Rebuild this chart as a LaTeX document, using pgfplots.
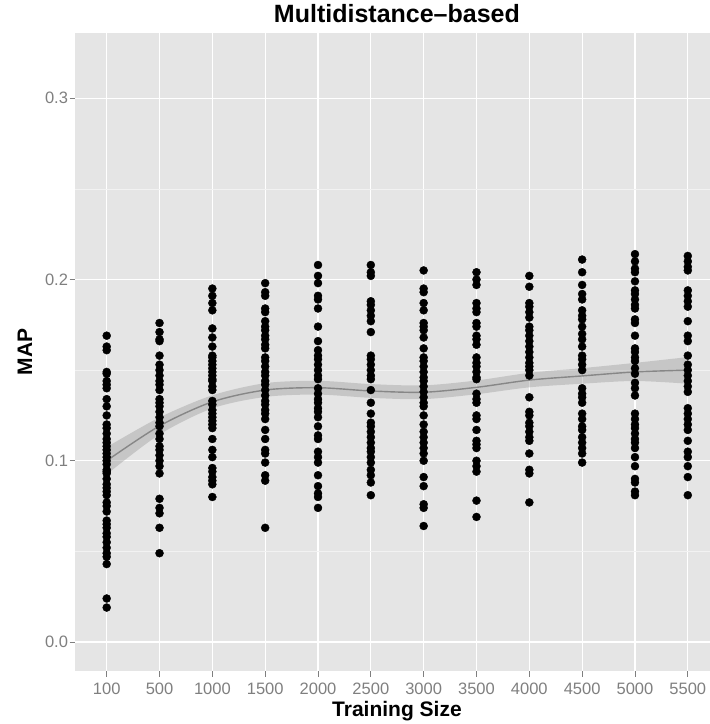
\documentclass[border=0pt]{standalone}
\usepackage{pgfplots}
\pgfplotsset{compat=1.18}
\usepgfplotslibrary{fillbetween}
\usepackage{fontspec}
\setmainfont{Liberation Sans}
\definecolor{panel}{RGB}{229,229,229}
\definecolor{minorgrid}{RGB}{242,242,242}
\definecolor{ticklab}{RGB}{127,127,127}
\definecolor{smoothline}{RGB}{135,135,135}
\definecolor{bandfill}{RGB}{153,153,153}

\pgfplotstableread{
x y
0 0.169
0 0.163
0 0.161
0 0.149
0 0.148
0 0.144
0 0.142
0 0.140
0 0.134
0 0.130
0 0.125
0 0.120
0 0.118
0 0.115
0 0.112
0 0.110
0 0.108
0 0.106
0 0.104
0 0.102
0 0.100
0 0.098
0 0.095
0 0.094
0 0.093
0 0.090
0 0.087
0 0.085
0 0.083
0 0.081
0 0.077
0 0.075
0 0.072
0 0.067
0 0.065
0 0.063
0 0.060
0 0.058
0 0.055
0 0.052
0 0.049
0 0.047
0 0.043
0 0.024
0 0.019
1 0.176
1 0.171
1 0.167
1 0.166
1 0.158
1 0.153
1 0.150
1 0.147
1 0.144
1 0.142
1 0.139
1 0.134
1 0.132
1 0.130
1 0.127
1 0.124
1 0.121
1 0.119
1 0.115
1 0.112
1 0.108
1 0.106
1 0.103
1 0.100
1 0.097
1 0.093
1 0.079
1 0.074
1 0.071
1 0.063
1 0.049
2 0.195
2 0.191
2 0.187
2 0.183
2 0.173
2 0.168
2 0.163
2 0.158
2 0.157
2 0.155
2 0.153
2 0.151
2 0.149
2 0.147
2 0.145
2 0.144
2 0.141
2 0.139
2 0.133
2 0.131
2 0.128
2 0.126
2 0.124
2 0.122
2 0.120
2 0.118
2 0.112
2 0.106
2 0.102
2 0.096
2 0.094
2 0.091
2 0.089
2 0.087
2 0.080
3 0.198
3 0.193
3 0.191
3 0.184
3 0.182
3 0.177
3 0.174
3 0.172
3 0.169
3 0.167
3 0.164
3 0.162
3 0.157
3 0.155
3 0.152
3 0.149
3 0.147
3 0.144
3 0.142
3 0.139
3 0.136
3 0.133
3 0.131
3 0.128
3 0.126
3 0.123
3 0.117
3 0.112
3 0.106
3 0.104
3 0.099
3 0.092
3 0.089
3 0.063
4 0.208
4 0.202
4 0.198
4 0.191
4 0.189
4 0.184
4 0.174
4 0.166
4 0.161
4 0.158
4 0.156
4 0.153
4 0.150
4 0.147
4 0.145
4 0.140
4 0.137
4 0.134
4 0.132
4 0.129
4 0.127
4 0.124
4 0.119
4 0.114
4 0.112
4 0.105
4 0.102
4 0.099
4 0.092
4 0.086
4 0.082
4 0.080
4 0.074
5 0.208
5 0.204
5 0.202
5 0.188
5 0.186
5 0.183
5 0.180
5 0.177
5 0.171
5 0.158
5 0.156
5 0.153
5 0.150
5 0.147
5 0.145
5 0.139
5 0.132
5 0.126
5 0.121
5 0.119
5 0.116
5 0.113
5 0.110
5 0.107
5 0.105
5 0.102
5 0.099
5 0.095
5 0.092
5 0.088
5 0.081
6 0.205
6 0.195
6 0.193
6 0.187
6 0.183
6 0.176
6 0.174
6 0.172
6 0.168
6 0.162
6 0.157
6 0.155
6 0.152
6 0.149
6 0.146
6 0.144
6 0.141
6 0.138
6 0.135
6 0.132
6 0.130
6 0.125
6 0.120
6 0.116
6 0.113
6 0.110
6 0.107
6 0.104
6 0.100
6 0.091
6 0.086
6 0.076
6 0.074
6 0.064
7 0.204
7 0.200
7 0.197
7 0.187
7 0.184
7 0.182
7 0.176
7 0.174
7 0.169
7 0.167
7 0.164
7 0.157
7 0.154
7 0.152
7 0.149
7 0.146
7 0.145
7 0.137
7 0.134
7 0.132
7 0.125
7 0.123
7 0.117
7 0.111
7 0.109
7 0.107
7 0.100
7 0.097
7 0.094
7 0.078
7 0.069
8 0.202
8 0.196
8 0.187
8 0.185
8 0.182
8 0.179
8 0.174
8 0.172
8 0.169
8 0.166
8 0.163
8 0.160
8 0.157
8 0.154
8 0.152
8 0.150
8 0.147
8 0.135
8 0.127
8 0.125
8 0.121
8 0.119
8 0.116
8 0.113
8 0.111
8 0.104
8 0.095
8 0.093
8 0.077
9 0.211
9 0.204
9 0.197
9 0.192
9 0.189
9 0.183
9 0.180
9 0.178
9 0.174
9 0.170
9 0.167
9 0.163
9 0.158
9 0.156
9 0.153
9 0.150
9 0.140
9 0.137
9 0.135
9 0.132
9 0.126
9 0.123
9 0.119
9 0.117
9 0.113
9 0.110
9 0.107
9 0.104
9 0.099
10 0.214
10 0.210
10 0.206
10 0.204
10 0.199
10 0.194
10 0.192
10 0.189
10 0.186
10 0.184
10 0.178
10 0.176
10 0.169
10 0.162
10 0.160
10 0.157
10 0.155
10 0.151
10 0.148
10 0.143
10 0.140
10 0.136
10 0.126
10 0.123
10 0.120
10 0.118
10 0.115
10 0.112
10 0.110
10 0.107
10 0.102
10 0.097
10 0.090
10 0.088
10 0.083
10 0.081
11 0.213
11 0.210
11 0.207
11 0.205
11 0.194
11 0.191
11 0.188
11 0.185
11 0.177
11 0.169
11 0.166
11 0.158
11 0.153
11 0.150
11 0.147
11 0.144
11 0.141
11 0.138
11 0.129
11 0.126
11 0.123
11 0.120
11 0.117
11 0.111
11 0.105
11 0.102
11 0.097
11 0.091
11 0.081
}\points

\pgfplotstableread{
x mid lo hi
0 0.1000 0.0925 0.1075
1 0.1192 0.1145 0.1239
2 0.1325 0.1289 0.1361
3 0.1390 0.1352 0.1428
4 0.1403 0.1365 0.1441
5 0.1385 0.1347 0.1423
6 0.1378 0.1340 0.1416
7 0.1405 0.1367 0.1443
8 0.1445 0.1405 0.1485
9 0.1468 0.1425 0.1511
10 0.1490 0.1440 0.1540
11 0.1500 0.1425 0.1572
}\smoothfit

\begin{document}
\begin{tikzpicture}
\begin{axis}[
  set layers,
  scale only axis,
  width=635pt, height=638pt,
  xmin=-0.6, xmax=11.42,
  ymin=-0.016, ymax=0.336,
  axis background/.style={fill=panel},
  axis line style={draw=none},
  xtick={0,1,2,3,4,5,6,7,8,9,10,11},
  xticklabels={100,500,1000,1500,2000,2500,3000,3500,4000,4500,5000,5500},
  ytick={0,0.1,0.2,0.3},
  yticklabels={0.0,0.1,0.2,0.3},
  minor ytick={0.05,0.15,0.25},
  xmajorgrids, ymajorgrids, yminorgrids,
  major grid style={white, line width=1.2pt},
  minor grid style={minorgrid, line width=0.6pt},
  tick pos=left,
  tick align=outside,
  major tick length=5.5pt,
  minor tick length=0pt,
  major tick style={ticklab, line width=0.8pt},
  minor tick style={draw=none},
  ticklabel style={font=\fontsize{16.5}{19}\selectfont, text=ticklab},
  xticklabel style={yshift=-3pt},
  yticklabel style={xshift=2pt},
  title={Multidistance--based},
  title style={at={(axis description cs:0.507,1.021)}, anchor=center, font=\bfseries\fontsize{25}{29}\selectfont},
  xlabel={Training Size},
  xlabel style={at={(axis description cs:0.507,-0.063)}, anchor=center, font=\bfseries\fontsize{21}{25}\selectfont},
  ylabel={MAP},
  ylabel style={at={(axis description cs:-0.0787,0.5)}, anchor=center, font=\bfseries\fontsize{21}{25}\selectfont},
]
\addplot[on layer=pre main, only marks, mark=*, mark size=4pt, black] table[x=x, y=y] {\points};
\addplot[name path=up, draw=none, smooth, forget plot] table[x=x, y=hi] {\smoothfit};
\addplot[name path=lo, draw=none, smooth, forget plot] table[x=x, y=lo] {\smoothfit};
\addplot[bandfill, fill opacity=0.4, draw=none] fill between[of=up and lo];
\addplot[smoothline, line width=1.4pt, smooth] table[x=x, y=mid] {\smoothfit};
\end{axis}
\pgfresetboundingbox
\path[use as bounding box] ([xshift=-75pt,yshift=-53pt]current axis.south west) rectangle ([yshift=33pt]current axis.north east);
\end{tikzpicture}
\end{document}
